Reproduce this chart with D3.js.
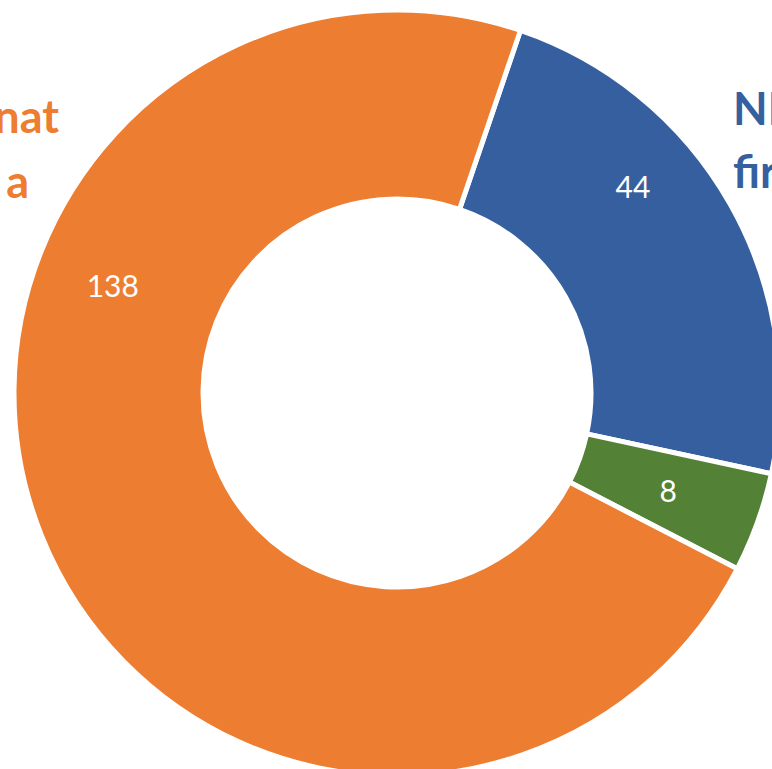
<!DOCTYPE html>
<html>
<head>
<meta charset="utf-8">
<script src="https://cdn.jsdelivr.net/npm/d3@7"></script>
<style>
  html, body { margin: 0; padding: 0; background: #fff; overflow: hidden; }
  svg { display: block; }
</style>
</head>
<body>
<svg id="chart" width="772" height="769"></svg>
<script>
// Slices in clockwise drawing order
const categories = ["NIH-funded first author", "Other", "International"];
const values = [44, 8, 138];
const colors = ["#365F9F", "#538135", "#ED7D31"];

// Category captions (two lines each) for the slices that carry one
const captionLines = [["NIH", "first author"], null, ["Internat", "ional, group a"]];

// Donut geometry
const cx = 397, cy = 393;
const outerR = 383, innerR = 194;
const startDeg = 18.8;

// Value label placement per slice: angle (deg, clockwise from 12 o'clock) and radius
const labelAngle = [48.7, 109.7, 290.8];
const labelRadius = [314, 288, 304];

// Caption placement per slice
const captionPos = [
  { x: 733, y: 125, anchor: "start" },
  null,
  { x: 59, y: 133, anchor: "end", x2: 29, y2: 198 }
];

const svg = d3.select("#chart");
const g = svg.append("g").attr("transform", `translate(${cx},${cy})`);

const rad = d => d * Math.PI / 180;

const pie = d3.pie()
  .sort(null)
  .value(d => d)
  .startAngle(rad(startDeg))
  .endAngle(rad(startDeg + 360));

const arc = d3.arc().innerRadius(innerR).outerRadius(outerR);

const arcs = pie(values);

g.selectAll("path.slice")
  .data(arcs)
  .join("path")
  .attr("class", "slice")
  .attr("d", arc)
  .attr("fill", (d, i) => colors[i])
  .attr("stroke", "#fff")
  .attr("stroke-width", 5)
  .attr("stroke-linejoin", "miter");

// Value labels
g.selectAll("text.value")
  .data(arcs)
  .join("text")
  .attr("class", "value")
  .attr("x", (d, i) => labelRadius[i] * Math.sin(rad(labelAngle[i])))
  .attr("y", (d, i) => -labelRadius[i] * Math.cos(rad(labelAngle[i])))
  .attr("text-anchor", "middle")
  .attr("dominant-baseline", "central")
  .attr("fill", "#fff")
  .style("font-family", "Lato, 'Open Sans', sans-serif")
  .style("font-size", "30px")
  .text(d => d.data);

// Category captions
captionLines.forEach((lines, i) => {
  if (!lines) return;
  const p = captionPos[i];
  const t = svg.append("text")
    .attr("fill", colors[i])
    .style("font-family", "Lato, 'Open Sans', sans-serif")
    .style("font-weight", "bold")
    .style("font-size", "45px")
    .attr("text-anchor", p.anchor);
  t.append("tspan").attr("x", p.x).attr("y", p.y).text(lines[0]);
  t.append("tspan")
    .attr("x", p.x2 !== undefined ? p.x2 : p.x)
    .attr("y", p.y2 !== undefined ? p.y2 : p.y + 63)
    .text(lines[1]);
});
</script>
</body>
</html>
